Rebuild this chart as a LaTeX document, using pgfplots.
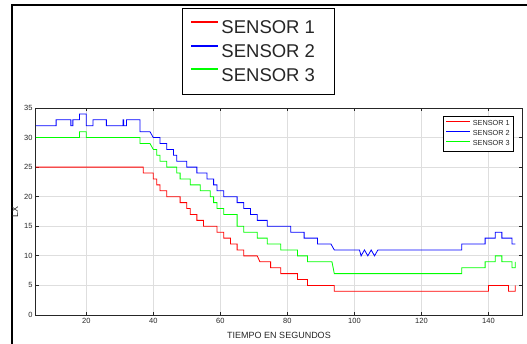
\documentclass[border=0pt]{standalone}
\usepackage{pgfplots}
\pgfplotsset{compat=1.18}
\usepackage{fontspec}
\setmainfont{Liberation Sans}
\definecolor{axgray}{RGB}{38,38,38}
\definecolor{gridgray}{RGB}{222,222,222}
\definecolor{sred}{RGB}{255,0,0}
\definecolor{sblue}{RGB}{0,0,255}
\definecolor{sgreen}{RGB}{0,255,0}
\begin{document}
\begin{tikzpicture}[x=1pt,y=1pt]
\useasboundingbox (0,0) rectangle (527,343);
\draw[line width=1.3pt] (12,-5) -- (12,338) -- (540,338);
% large legend (hidden axis)
\begin{axis}[at={(0pt,0pt)}, anchor=south west, width=527pt, height=343pt, scale only axis, hide axis,
  xmin=0, xmax=1, ymin=0, ymax=1,
  legend style={at={(0.3454,0.9767)}, anchor=north west, line width=0.9pt,
    font=\fontsize{18.5}{20}\selectfont, cells={anchor=west}, inner xsep=8pt, inner ysep=10pt, row sep=5.5pt},
  legend image code/.code={\draw[#1] (2.5pt,6pt) -- (29.5pt,6pt);}]
\addlegendimage{draw=sred, line width=2pt}
\addlegendentry{\textcolor{axgray}{SENSOR 1}\hspace*{9pt}}
\addlegendimage{draw=sblue, line width=2pt}
\addlegendentry{\textcolor{axgray}{SENSOR 2}\hspace*{9pt}}
\addlegendimage{draw=sgreen, line width=2pt}
\addlegendentry{\textcolor{axgray}{SENSOR 3}\hspace*{9pt}}
\end{axis}
\begin{axis}[at={(36pt,28pt)}, anchor=south west, width=486pt, height=207pt, scale only axis,
  xmin=5, xmax=150, ymin=0, ymax=35,
  xtick={20,40,...,140}, ytick={0,5,...,35},
  grid=major, major grid style={gridgray, line width=0.8pt},
  axis line style={axgray, line width=1pt}, tick style={axgray, line width=0.8pt},
  tick align=inside, major tick length=3pt,
  ticklabel style={font=\fontsize{7.5}{8}\selectfont, text=axgray},
  /pgf/number format/assume math mode=true,
  xlabel={TIEMPO EN SEGUNDOS}, ylabel={LX},
  label style={font=\fontsize{9}{10}\selectfont, text=axgray},
  xlabel style={at={(axis description cs:0.5,-0.0966)}, anchor=center},
  ylabel style={at={(axis description cs:-0.0432,0.5)}, anchor=center},
  legend style={at={(0.9835,0.961)}, anchor=north east, font=\fontsize{7.3}{8}\selectfont,
    line width=0.6pt, cells={anchor=west}, row sep=-0.5pt, inner sep=2pt},
  legend image code/.code={\draw[#1, line width=1.2pt] (0pt,2.5pt) -- (24pt,2.5pt);},
  every axis plot/.append style={line width=0.8pt}]
\addplot[draw=sred] coordinates {(5,25)(37,25)(37,24)(40,24)(40,23)(41,23)(41,22)(42,22)(42,21)(44,21)(44,20)(48,20)(48,19)(50,19)(50,18)(51,18)(51,17)(53,17)(53,16)(55,16)(55,15)(59,15)(59,14)(61,14)(61,13)(63,13)(63,12)(65,12)(65,11)(67,11)(67,10)(71,10)(71.8,9)(75,9)(75,8)(78,8)(78,7)(83,7)(83,6)(86,6)(86,5)(94,5)(94,4)(140,4)(140,5)(146,5)(146,4)(148,4)(148,5)};
\addlegendentry{\textcolor{axgray}{SENSOR 1}}
\addplot[draw=sblue] coordinates {(5,32)(11,32)(11,33)(15.4,33)(15.4,32)(16,32)(16,33)(18,33)(18,34)(20,34)(20,32)(22,32)(22,33)(26,33)(26,32)(31,32)(31,33)(31.2,33)(31.2,32)(32,32)(32,33)(36,33)(36,31)(39,31)(40,30)(42,30)(42,29)(44,29)(44,28)(46,28)(46,27)(47,27)(47,26)(50,26)(50,25)(53,25)(53,24)(56,24)(56,23)(58,23)(58,22)(59,22)(59,21)(61,21)(61,20)(65,20)(65,19)(67,19)(67,18)(69,18)(69,17)(71,17)(71,16)(74,16)(74,15)(81,15)(81,14)(85,14)(85,13)(89,13)(89,12)(93,12)(94,11)(101.5,11)(102,10)(103,11)(104,10)(105,11)(106,10)(107,11)(132,11)(132,12)(139,12)(139,13)(142,13)(142,14)(144,14)(144,13)(147,13)(147,12)(148,12)};
\addlegendentry{\textcolor{axgray}{SENSOR 2}}
\addplot[draw=sgreen] coordinates {(5,30)(18,30)(18,31)(20,31)(20,30)(36,30)(36,29)(39,29)(40,28)(41,28)(41,27)(42,27)(42,26)(44,26)(44,25)(47,25)(47,24)(48,24)(48,23)(51,23)(51,22)(54,22)(54,21)(57,21)(57,20)(58,20)(58,19)(59,19)(59,18)(61,18)(61,17)(65,17)(65,15)(67,15)(67,14)(71,14)(71,13)(74,13)(74,12)(78,12)(78,11)(83,11)(83,10)(86,10)(86,9)(93.3,9)(94,7)(132,7)(132,8)(139,8)(139,9)(142,9)(142,10)(144,10)(144,9)(147,9)(147,8)(148,8)(148,9)};
\addlegendentry{\textcolor{axgray}{SENSOR 3}}
\end{axis}
\end{tikzpicture}
\end{document}
